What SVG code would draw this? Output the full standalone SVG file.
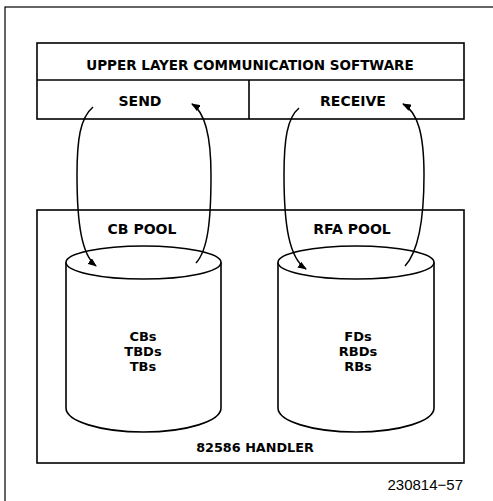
<svg xmlns="http://www.w3.org/2000/svg" width="493" height="501" viewBox="0 0 493 501">
<style>
.ln{fill:none;stroke:#000;stroke-width:1.6}
.cyl{fill:#fff;stroke:#000;stroke-width:1.6}
.b{font-family:"DejaVu Sans","Liberation Sans",Arial,sans-serif;font-weight:bold;font-size:14px;text-anchor:middle;fill:#000}
.t{font-size:13.5px}
.c{font-size:13px}
.h{font-size:12.8px}
.r{font-family:"Liberation Sans",Arial,sans-serif;font-size:15px;text-anchor:end;fill:#000}
.ar{fill:none;stroke:#000;stroke-width:1.5;marker-end:url(#ah)}
</style>
<defs>
<marker id="ah" markerWidth="9" markerHeight="7" refX="8" refY="3.5" orient="auto" markerUnits="userSpaceOnUse">
<path d="M0,0 L9,3.5 L0,7 z" fill="#000"/>
</marker>
</defs>
<rect width="493" height="501" fill="#fff"/>
<rect x="5" y="7" width="520" height="520" fill="none" stroke="#000" stroke-width="1.2"/>
<g id="upper">
<rect x="37" y="43" width="427" height="76" class="ln"/>
<line x1="37" y1="80" x2="464" y2="80" class="ln"/>
<text x="250" y="70" class="b t">UPPER LAYER COMMUNICATION SOFTWARE</text>
</g>
<g id="send">
<line x1="249" y1="80" x2="249" y2="119" class="ln"/>
<text x="140" y="106" class="b">SEND</text>
</g>
<g id="receive">
<text x="353" y="106" class="b">RECEIVE</text>
</g>
<g id="handler">
<rect x="37" y="210" width="427" height="253" class="ln"/>
<text x="255" y="452" class="b h">82586 HANDLER</text>
</g>
<g id="cbpool">
<text x="142" y="234" class="b">CB POOL</text>
<path class="cyl" d="M66,262.5 V408 C66,421 100,432 143.5,432 C187,432 221,421 221,408 V262.5"/>
<ellipse cx="143.5" cy="262.5" rx="77.5" ry="16.5" class="cyl"/>
<text x="143" y="341" class="b c">CBs</text>
<text x="143" y="356" class="b c">TBDs</text>
<text x="143" y="371" class="b c">TBs</text>
</g>
<g id="rfapool">
<text x="352" y="234" class="b">RFA POOL</text>
<path class="cyl" d="M278,262.5 V408 C278,421 312,432 356,432 C400,432 434,421 434,408 V262.5"/>
<ellipse cx="356" cy="262.5" rx="78" ry="16.5" class="cyl"/>
<text x="358" y="341" class="b c">FDs</text>
<text x="358" y="356" class="b c">RBDs</text>
<text x="358" y="371" class="b c">RBs</text>
</g>
<g id="connectors">
<path class="ar" d="M93,107 C80,118 77,140 77,175 C77,225 82,255 96,266"/>
<path class="ar" d="M196,263 C208,250 211,220 211,175 C211,135 205,112 192,104"/>
<path class="ar" d="M299,108 C287,118 284,140 284,175 C284,225 289,258 306,269"/>
<path class="ar" d="M405,266 C418,252 424,220 424,175 C424,135 418,112 403,104"/>
</g>
<text x="463" y="490" class="r">230814−57</text>
</svg>
